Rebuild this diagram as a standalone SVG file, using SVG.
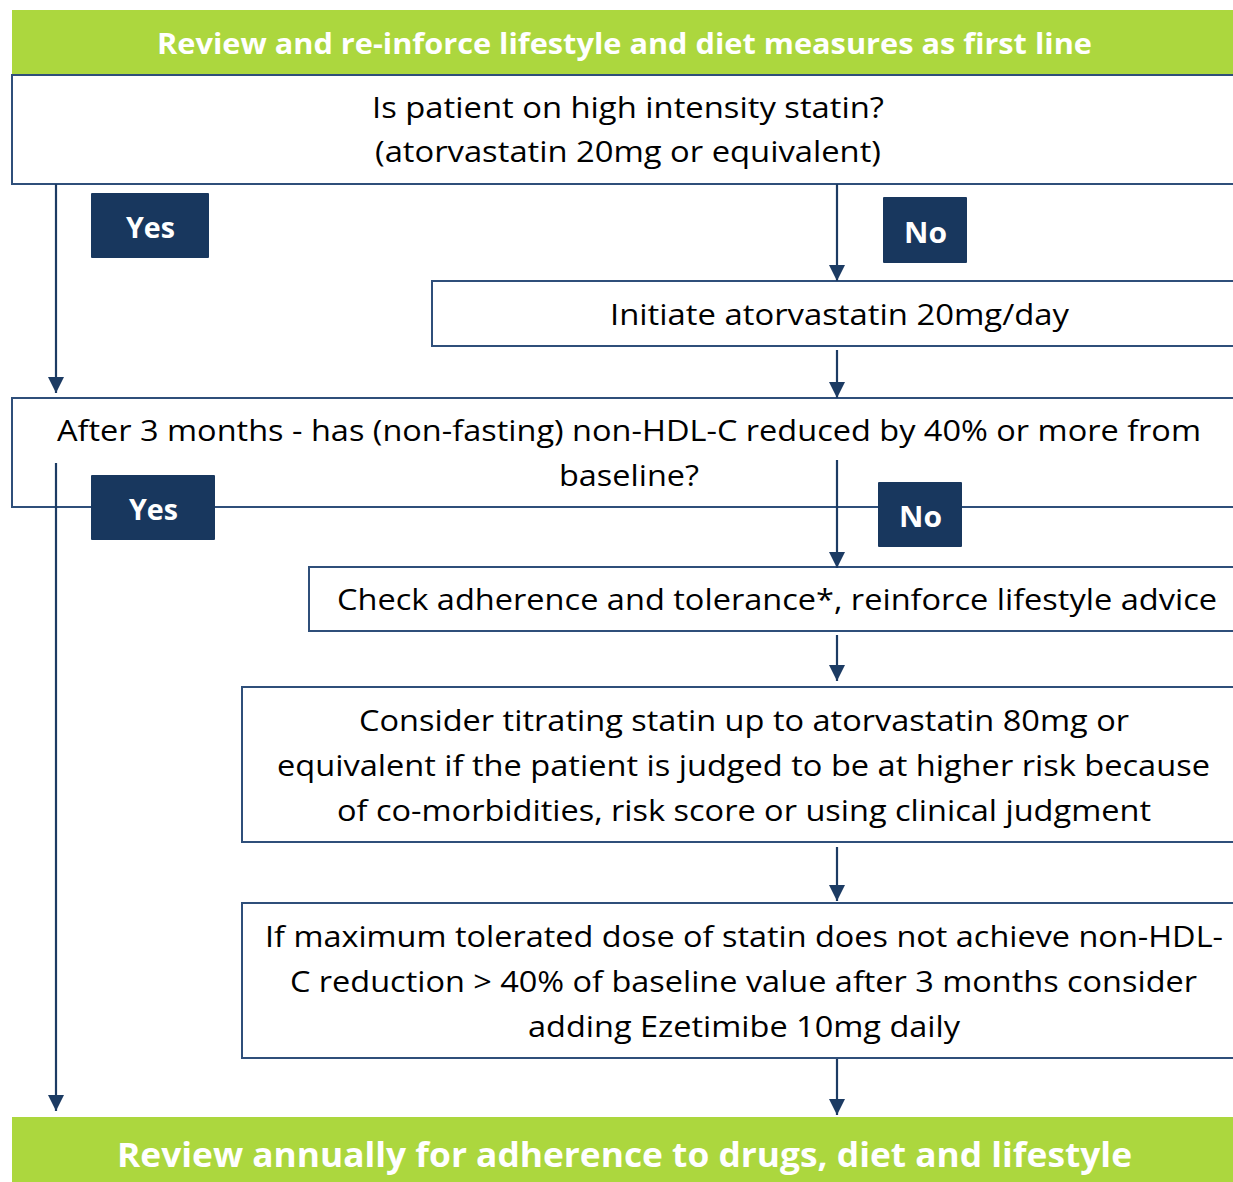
<svg xmlns="http://www.w3.org/2000/svg" width="1233" height="1182" viewBox="0 0 1233 1182">
<defs>
<style>
.box{fill:#ffffff;stroke:#2f4f7a;stroke-width:2}
.band{fill:#acd73e}
.tag{fill:#18375e}
.t{font-family:"Open Sans","Noto Sans","Liberation Sans",sans-serif;font-size:29px;fill:#000000}
.bw{font-family:"Open Sans","Noto Sans","Liberation Sans",sans-serif;font-weight:bold;fill:#ffffff}
.c{stroke:#1c3b63;stroke-width:2.2;fill:none}
</style>
<marker id="ah" markerUnits="userSpaceOnUse" markerWidth="16" markerHeight="16" viewBox="0 0 16 16" refX="16" refY="8" orient="auto">
<path d="M0,0 L16,8 L0,16 Z" fill="#1c3b63"/>
</marker>
</defs>
<rect width="1233" height="1182" fill="#ffffff"/>

<g id="header">
<rect class="band" x="12" y="10" width="1230" height="65"/>
<text class="bw" font-size="29" x="157" y="54" textLength="935" lengthAdjust="spacingAndGlyphs">Review and re-inforce lifestyle and diet measures as first line</text>
</g>

<g id="q1">
<rect class="box" x="12" y="75" width="1240" height="109"/>
<text class="t" x="372" y="118" textLength="512" lengthAdjust="spacingAndGlyphs">Is patient on high intensity statin?</text>
<text class="t" x="375" y="162" textLength="506" lengthAdjust="spacingAndGlyphs">(atorvastatin 20mg or equivalent)</text>
</g>

<g id="initiate">
<rect class="box" x="432" y="281" width="820" height="65"/>
<text class="t" x="610" y="325" textLength="459" lengthAdjust="spacingAndGlyphs">Initiate atorvastatin 20mg/day</text>
</g>

<g id="q2">
<rect class="box" x="12" y="398" width="1240" height="109"/>
<text class="t" x="57" y="441" textLength="1144" lengthAdjust="spacingAndGlyphs">After 3 months - has (non-fasting) non-HDL-C reduced by 40% or more from</text>
<text class="t" x="559" y="486" textLength="140" lengthAdjust="spacingAndGlyphs">baseline?</text>
</g>

<g id="check">
<rect class="box" x="309" y="567" width="940" height="64"/>
<text class="t" x="337" y="610" textLength="880" lengthAdjust="spacingAndGlyphs">Check adherence and tolerance*, reinforce lifestyle advice</text>
</g>

<g id="titrate">
<rect class="box" x="242" y="687" width="1010" height="155"/>
<text class="t" x="359" y="731" textLength="770" lengthAdjust="spacingAndGlyphs">Consider titrating statin up to atorvastatin 80mg or</text>
<text class="t" x="277" y="776" textLength="933" lengthAdjust="spacingAndGlyphs">equivalent if the patient is judged to be at higher risk because</text>
<text class="t" x="337" y="821" textLength="814" lengthAdjust="spacingAndGlyphs">of co-morbidities, risk score or using clinical judgment</text>
</g>

<g id="ezetimibe">
<rect class="box" x="242" y="903" width="1010" height="155"/>
<text class="t" x="265" y="947" textLength="958" lengthAdjust="spacingAndGlyphs">If maximum tolerated dose of statin does not achieve non-HDL-</text>
<text class="t" x="290" y="992" textLength="907" lengthAdjust="spacingAndGlyphs">C reduction &gt; 40% of baseline value after 3 months consider</text>
<text class="t" x="528" y="1037" textLength="432" lengthAdjust="spacingAndGlyphs">adding Ezetimibe 10mg daily</text>
</g>

<g id="footer">
<rect class="band" x="12" y="1117" width="1230" height="70"/>
<text class="bw" font-size="34" x="117" y="1167" textLength="1015" lengthAdjust="spacingAndGlyphs">Review annually for adherence to drugs, diet and lifestyle</text>
</g>

<g id="connectors">
<line class="c" x1="56" y1="184" x2="56" y2="393" marker-end="url(#ah)"/>
<line class="c" x1="837" y1="184" x2="837" y2="281" marker-end="url(#ah)"/>
<line class="c" x1="837" y1="350" x2="837" y2="398" marker-end="url(#ah)"/>
<line class="c" x1="56" y1="463" x2="56" y2="1111" marker-end="url(#ah)"/>
<line class="c" x1="837" y1="460" x2="837" y2="568" marker-end="url(#ah)"/>
<line class="c" x1="837" y1="635" x2="837" y2="681" marker-end="url(#ah)"/>
<line class="c" x1="837" y1="847" x2="837" y2="901" marker-end="url(#ah)"/>
<line class="c" x1="837" y1="1059" x2="837" y2="1115" marker-end="url(#ah)"/>
</g>

<g id="yes1">
<rect class="tag" x="91" y="193" width="118" height="65" rx="1"/>
<text class="bw" font-size="29" x="126" y="238" textLength="49" lengthAdjust="spacingAndGlyphs">Yes</text>
</g>
<g id="no1">
<rect class="tag" x="883" y="197" width="84" height="66" rx="1"/>
<text class="bw" font-size="29" x="904" y="243" textLength="43" lengthAdjust="spacingAndGlyphs">No</text>
</g>
<g id="yes2">
<rect class="tag" x="91" y="475" width="124" height="65" rx="1"/>
<text class="bw" font-size="29" x="129" y="520" textLength="49" lengthAdjust="spacingAndGlyphs">Yes</text>
</g>
<g id="no2">
<rect class="tag" x="878" y="482" width="84" height="65" rx="1"/>
<text class="bw" font-size="29" x="899" y="527" textLength="43" lengthAdjust="spacingAndGlyphs">No</text>
</g>
</svg>
